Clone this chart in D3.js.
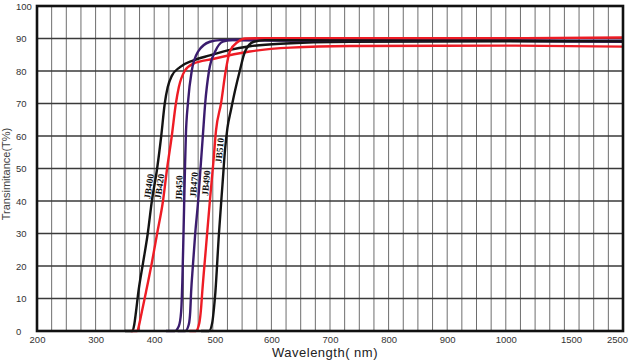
<!DOCTYPE html>
<html><head><meta charset="utf-8">
<script src="https://cdn.jsdelivr.net/npm/d3@7"></script>
<style>body{margin:0;background:#fff}svg{display:block}</style>
</head><body>
<svg id="chart" width="630" height="360"></svg>
<script>
// ---- data ----
const xTickValues = [200, 300, 400, 500, 600, 700, 800, 900, 1000, 1500, 2500];
const yTickValues = [0, 10, 20, 30, 40, 50, 60, 70, 80, 90, 100];
const seriesNames = ["JB400", "JB420", "JB450", "JB470", "JB490", "JB510"];
const seriesColors = ["#141414", "#ee1c25", "#3b1c6e", "#3b1c6e", "#ee1c25", "#141414"];
// [wavelength nm, transmittance %]
const jb400 = [[350,0],[363,0],[366,2],[369,6],[373,12],[381,21],[389,30],[396,40],[405,50],[412,60],[418,70],[423,75],[430,78.5],[444,81.2],[466,83.2],[495,84.8],[529,86.5],[563,87.6],[615,88.4],[734,89],[1000,89.1],[2500,89.2]];
const jb420 = [[360,0],[371,0],[375,2.5],[379,6],[386,12],[396,21],[405,30],[415,40],[422,50],[430,60],[437,70],[442,75],[452,80],[466,82.2],[500,83.7],[563,86],[632,87.2],[734,87.7],[1000,87.8],[2500,87.5]];
const jb450 = [[420,0],[435,0],[442,1.5],[446,6],[448,15],[450,30],[452.5,50],[454,60],[457.5,70],[464,80],[475,86],[495,89],[512,89.5],[600,89.4],[1000,89.3],[2500,89]];
const jb470 = [[440,0],[453,0],[459,2],[461.5,6],[463,12],[466,20],[470,30],[475,40],[479,50],[483,60],[487,70],[493.5,80],[504,86],[517,89],[534,89.6],[600,89.5],[1000,89.4],[2500,89.3]];
const jb490 = [[460,0],[471,0],[477,2.5],[480,7],[482,12],[488,25],[495,40],[501,52],[505.5,61.7],[514,70],[522,80],[529,86],[543,89],[555,90],[600,90.1],[1000,90.1],[2500,90.3]];
const jb510 = [[480,0],[493.5,0],[499,2.5],[502,7],[504,11],[510.5,30],[516.5,45],[521,56],[525,62.5],[531,68],[538,74],[546,80],[555,86],[570,89],[589,89.5],[700,89.4],[1000,89.3],[2500,89.1]];
const seriesData = [jb400, jb420, jb450, jb470, jb490, jb510];
const labelAtT = [44.5, 44.5, 44, 45, 45.5, 55.5];

// ---- layout ----
const W = 630, H = 360;
const m = {left: 37, right: 7, top: 6, bottom: 29};
const iw = W - m.left - m.right, ih = H - m.top - m.bottom;
const svg = d3.select("#chart");
const g = svg.append("g").attr("transform", `translate(${m.left},${m.top})`);

const gridUnits = d3.scaleLinear().domain([0, 40]).range([0, iw]);
const x = d3.scaleLinear().domain([200, 1000, 1500, 2500])
  .range([gridUnits(0), gridUnits(32), gridUnits(36.45), gridUnits(40)]);
const y = d3.scaleLinear().domain([0, 100]).range([ih, 0]);

// grid
g.append("g").selectAll("line").data(d3.range(1, 40)).join("line")
  .attr("x1", d => gridUnits(d)).attr("x2", d => gridUnits(d))
  .attr("y1", 0).attr("y2", ih)
  .attr("stroke", "#6e6e6e").attr("stroke-width", 1);
g.append("g").selectAll("line").data(yTickValues.slice(1, -1)).join("line")
  .attr("x1", 0).attr("x2", iw)
  .attr("y1", d => y(d)).attr("y2", d => y(d))
  .attr("stroke", "#3a3a3a").attr("stroke-width", 1.3);

// curves
const line = d3.line().x(d => x(d[0])).y(d => y(d[1])).curve(d3.curveMonotoneX);
g.append("g").selectAll("path").data(seriesData).join("path")
  .attr("d", line).attr("fill", "none")
  .attr("stroke", (d, i) => seriesColors[i]).attr("stroke-width", 2.4)
  .attr("stroke-linejoin", "round");

// labels
function nmAt(data, t) {
  for (let i = 1; i < data.length; i++) {
    if (data[i][1] >= t && data[i - 1][1] < t) {
      const a = data[i - 1], b = data[i];
      return a[0] + (t - a[1]) / (b[1] - a[1]) * (b[0] - a[0]);
    }
  }
  return data[0][0];
}
seriesData.forEach((data, i) => {
  const t = labelAtT[i];
  const px = x(nmAt(data, t)) - 5.5, py = y(t);
  const dx = x(nmAt(data, t + 10)) - x(nmAt(data, t - 10));
  const dy = y(t + 10) - y(t - 10);
  const ang = Math.atan2(dy, dx) * 180 / Math.PI;
  g.append("text").attr("transform", `translate(${px},${py}) rotate(${ang})`)
    .attr("text-anchor", "middle").attr("dy", "0.35em")
    .attr("font-family", "Liberation Serif, serif").attr("font-weight", "bold")
    .attr("font-size", 9.5).attr("fill", "#111").text(seriesNames[i]);
});

// frame
g.append("rect").attr("x", 0).attr("y", 0).attr("width", iw).attr("height", ih)
  .attr("fill", "none").attr("stroke", "#111").attr("stroke-width", 2.6);

// axes
const xAxis = g.append("g").attr("transform", `translate(0,${ih})`)
  .call(d3.axisBottom(x).tickValues(xTickValues).tickSize(0).tickPadding(5).tickFormat(d3.format("d")));
xAxis.select(".domain").remove();
xAxis.selectAll("text").attr("font-family", "Liberation Sans, Arial, sans-serif")
  .attr("font-size", 9.5).attr("fill", "#333")
  .attr("dx", d => d === 2500 ? -6 : (d === 500 ? 2 : 0));
const yAxis = g.append("g")
  .call(d3.axisLeft(y).tickValues(yTickValues).tickSize(0).tickPadding(5));
yAxis.select(".domain").remove();
yAxis.selectAll("text").attr("font-family", "Liberation Sans, Arial, sans-serif")
  .attr("font-size", 9.5).attr("fill", "#333")
  .attr("text-anchor", "start").attr("x", 16 - m.left);

// titles
svg.append("text").attr("x", 325).attr("y", 356.5).attr("text-anchor", "middle")
  .attr("font-family", "Liberation Sans, Arial, sans-serif").attr("font-size", 13)
  .attr("letter-spacing", 0.5).attr("fill", "#222").text("Wavelength( nm)");
svg.append("text").attr("transform", "translate(10,174) rotate(-90)").attr("text-anchor", "middle")
  .attr("font-family", "Liberation Sans, Arial, sans-serif").attr("font-size", 11)
  .attr("fill", "#444").text("Transimitance(T%)");
</script>
</body></html>
